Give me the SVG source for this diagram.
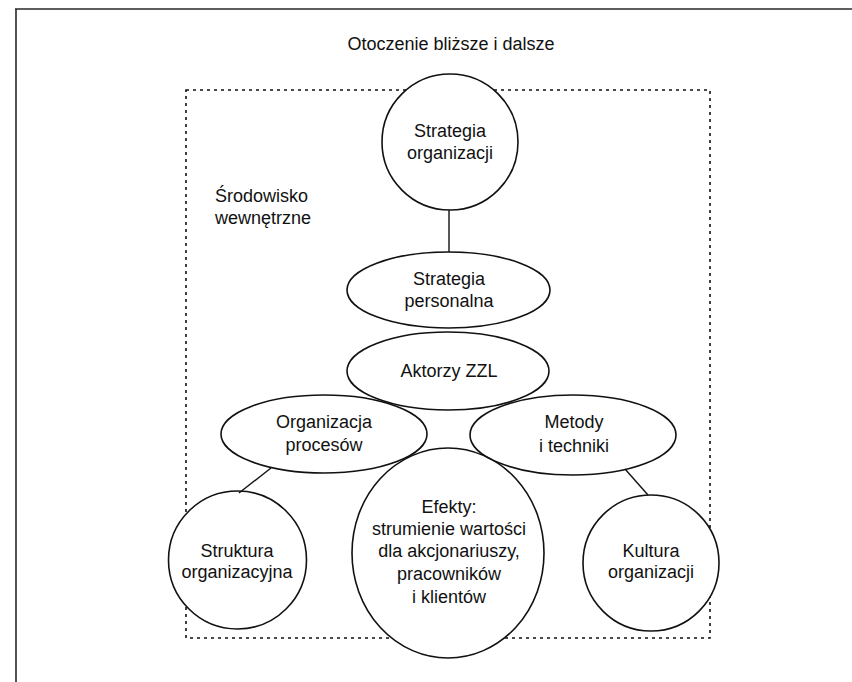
<svg xmlns="http://www.w3.org/2000/svg" xmlns:xlink="http://www.w3.org/1999/xlink" width="852" height="682" viewBox="0 0 852 682">
<style>
.frame{fill:none;stroke:#2a2a2a;stroke-width:1.6}
.zone{fill:none;stroke:#111;stroke-width:1.6;stroke-dasharray:3 4}
.pad{fill:#fff;stroke:none}
.shape{fill:none;stroke:#111;stroke-width:1.6}
.link{fill:none;stroke:#111;stroke-width:1.4}
text{font-family:"Liberation Sans",Arial,Helvetica,sans-serif;font-size:18px;fill:#111;text-anchor:middle}
text.left{text-anchor:start}
</style>
<defs>
<circle id="s-strat" cx="450" cy="142" r="68"/>
<ellipse id="s-pers" cx="448.5" cy="290" rx="101.5" ry="38"/>
<ellipse id="s-akt" cx="448" cy="371" rx="101" ry="39"/>
<ellipse id="s-org" cx="324" cy="434" rx="103" ry="39"/>
<ellipse id="s-met" cx="573" cy="435" rx="103" ry="40"/>
<ellipse id="s-ef" cx="448" cy="553" rx="96" ry="105"/>
<circle id="s-str" cx="237.5" cy="560" r="69"/>
<circle id="s-kul" cx="651" cy="563" r="68"/>
</defs>

<rect width="852" height="682" fill="#fff"/>

<!-- outer frame: top and left edges -->
<path class="frame" d="M15,9 H852 M16,9 V682"/>
<text x="451" y="50">Otoczenie bliższe i dalsze</text>

<!-- inner environment zone -->
<g id="zone">
<rect class="zone" x="186" y="90" width="524" height="548"/>
<text class="left" x="215" y="202">Środowisko</text>
<text class="left" x="215" y="224">wewnętrzne</text>
</g>

<!-- white pads so the zone border stays behind the nodes -->
<g id="pads">
<use class="pad" xlink:href="#s-strat"/>
<use class="pad" xlink:href="#s-pers"/>
<use class="pad" xlink:href="#s-akt"/>
<use class="pad" xlink:href="#s-org"/>
<use class="pad" xlink:href="#s-met"/>
<use class="pad" xlink:href="#s-ef"/>
<use class="pad" xlink:href="#s-str"/>
<use class="pad" xlink:href="#s-kul"/>
</g>

<g id="connectors">
<line class="link" x1="449" y1="210" x2="449" y2="252"/>
<line class="link" x1="271" y1="468" x2="239" y2="493"/>
<line class="link" x1="625" y1="469" x2="648" y2="495"/>
</g>

<g id="strategia-organizacji">
<use class="shape" xlink:href="#s-strat"/>
<text x="450" y="137">Strategia</text>
<text x="450" y="159">organizacji</text>
</g>

<g id="strategia-personalna">
<use class="shape" xlink:href="#s-pers"/>
<text x="449" y="285">Strategia</text>
<text x="449" y="307">personalna</text>
</g>

<g id="aktorzy-zzl">
<use class="shape" xlink:href="#s-akt"/>
<text x="449" y="377">Aktorzy ZZL</text>
</g>

<g id="organizacja-procesow">
<use class="shape" xlink:href="#s-org"/>
<text x="324" y="428">Organizacja</text>
<text x="324" y="451">procesów</text>
</g>

<g id="metody-i-techniki">
<use class="shape" xlink:href="#s-met"/>
<text x="574" y="428">Metody</text>
<text x="574" y="452">i techniki</text>
</g>

<g id="efekty">
<use class="shape" xlink:href="#s-ef"/>
<text x="449" y="513">Efekty:</text>
<text x="449" y="535">strumienie wartości</text>
<text x="449" y="557">dla akcjonariuszy,</text>
<text x="449" y="580">pracowników</text>
<text x="449" y="603">i klientów</text>
</g>

<g id="struktura-organizacyjna">
<use class="shape" xlink:href="#s-str"/>
<text x="237" y="557">Struktura</text>
<text x="237" y="578">organizacyjna</text>
</g>

<g id="kultura-organizacji">
<use class="shape" xlink:href="#s-kul"/>
<text x="651" y="557">Kultura</text>
<text x="651" y="578">organizacji</text>
</g>
</svg>
